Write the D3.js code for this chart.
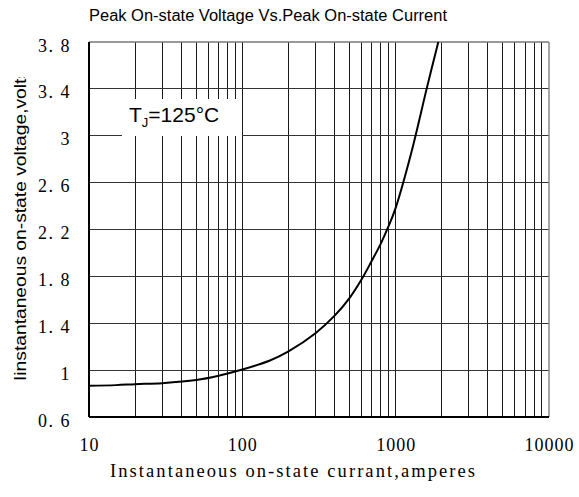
<!DOCTYPE html>
<html><head><meta charset="utf-8">
<script src="https://cdn.jsdelivr.net/npm/d3@7"></script>
<style>body{margin:0;background:#fff}svg{display:block}</style>
</head><body>
<script>
const currents = [10, 15, 20, 30, 50, 70, 100, 150, 200, 300, 400, 500, 600, 700, 800, 900, 1000, 1273, 1592, 1897];
const voltages = [0.866, 0.872, 0.880, 0.889, 0.915, 0.952, 1.005, 1.08, 1.16, 1.315, 1.465, 1.615, 1.775, 1.935, 2.08, 2.23, 2.385, 2.87, 3.40, 3.8];
const xTickValues = [10, 100, 1000, 10000];
const yTickValues = [0.6, 1.0, 1.4, 1.8, 2.2, 2.6, 3.0, 3.4, 3.8];
const titleText = "Peak On-state Voltage Vs.Peak On-state Current";
const xLabelText = "Instantaneous on-state currant,amperes";
const yLabelText = "Iinstantaneous on-state voltage,volts";

const W = 579, H = 497;
const m = {l: 89, r: 30, t: 42, b: 80};
const svg = d3.select("body").append("svg").attr("width", W).attr("height", H);
const x = d3.scaleLog().domain([10, 10000]).range([m.l, W - m.r]);
const y = d3.scaleLinear().domain([0.6, 3.8]).range([H - m.b, m.t]);

// vertical grid
const minor = [];
for (let d = 10; d < 10000; d *= 10) for (let k = 1; k <= 9; k++) minor.push(d * k);
svg.append("g").selectAll("line").data(minor.filter(v => v > 10)).join("line")
  .attr("x1", d => x(d)).attr("x2", d => x(d)).attr("y1", y(0.6)).attr("y2", y(3.8))
  .attr("stroke", "#1a1a1a").attr("stroke-width", 1).attr("shape-rendering", "crispEdges");
// horizontal grid
svg.append("g").selectAll("line").data(yTickValues.slice(1, -1)).join("line")
  .attr("x1", x(10)).attr("x2", x(10000)).attr("y1", d => y(d)).attr("y2", d => y(d))
  .attr("stroke", "#333").attr("stroke-width", 1).attr("shape-rendering", "crispEdges");

// frame
svg.append("line").attr("x1", x(10)).attr("x2", x(10000)).attr("y1", y(3.8)).attr("y2", y(3.8))
  .attr("stroke", "#777").attr("stroke-width", 1.5);
svg.append("line").attr("x1", x(10000)).attr("x2", x(10000)).attr("y1", y(3.8)).attr("y2", y(0.6))
  .attr("stroke", "#888").attr("stroke-width", 1.5);
svg.append("line").attr("x1", x(10)).attr("x2", x(10000)).attr("y1", y(0.6)).attr("y2", y(0.6))
  .attr("stroke", "#000").attr("stroke-width", 2);
svg.append("line").attr("x1", x(10)).attr("x2", x(10)).attr("y1", y(3.8)).attr("y2", y(0.6))
  .attr("stroke", "#000").attr("stroke-width", 2);

// label box
svg.append("rect").attr("x", 122).attr("y", 99).attr("width", 120).attr("height", 37).attr("fill", "#fff");
const tj = svg.append("text").attr("x", 129).attr("y", 122)
  .attr("font-family", "Liberation Sans, Arial, sans-serif").attr("font-size", 21).attr("fill", "#000");
tj.append("tspan").text("T");
tj.append("tspan").attr("font-size", 13).attr("dy", 5).text("J");
tj.append("tspan").attr("dy", -5).text("=125°C");

// curve
const line = d3.line().x(d => x(d[0])).y(d => y(d[1])).curve(d3.curveCatmullRom.alpha(0.5));
svg.append("path").datum(currents.map((c, i) => [c, voltages[i]]))
  .attr("d", line).attr("fill", "none").attr("stroke", "#000").attr("stroke-width", 2);

// axes tick labels
const xAxis = d3.axisBottom(x).tickValues(xTickValues).tickFormat(d3.format("d")).tickSize(0).tickPadding(21);
const gx = svg.append("g").attr("transform", `translate(0,${y(0.6)})`).call(xAxis);
gx.select(".domain").remove();
gx.selectAll("text").attr("font-family", "Liberation Serif, Times New Roman, serif")
  .attr("font-size", 18).attr("letter-spacing", 1).attr("fill", "#000");

const yAxis = d3.axisLeft(y).tickValues(yTickValues)
  .tickFormat(d => (Number.isInteger(d) ? String(d) : d.toFixed(1).replace(".", ".\u00a0"))).tickSize(0).tickPadding(18);
const gy = svg.append("g").attr("transform", `translate(${x(10)},0)`).call(yAxis);
gy.select(".domain").remove();
gy.selectAll("text").attr("font-family", "Liberation Serif, Times New Roman, serif")
  .attr("font-size", 18).attr("letter-spacing", 1.5).attr("fill", "#000").attr("dy", "0.5em");

// title
svg.append("text").attr("x", 268).attr("y", 21).attr("text-anchor", "middle")
  .attr("font-family", "Liberation Sans, Arial, sans-serif")
  .attr("font-size", 16).attr("textLength", 358).attr("lengthAdjust", "spacingAndGlyphs").text(titleText);

// x label
svg.append("text").attr("x", 110).attr("y", 477)
  .attr("font-family", "Liberation Serif, Times New Roman, serif")
  .attr("font-size", 18.5).attr("textLength", 365).attr("lengthAdjust", "spacing").text(xLabelText);

// y label (clipped at top)
svg.append("clipPath").attr("id", "yclip").append("rect").attr("x", 0).attr("y", 77).attr("width", 40).attr("height", 400);
svg.append("g").attr("clip-path", "url(#yclip)").append("text")
  .attr("transform", "translate(26,381) rotate(-90)")
  .attr("font-family", "Liberation Sans, Arial, sans-serif")
  .attr("font-size", 16).attr("textLength", 312).attr("lengthAdjust", "spacingAndGlyphs").text(yLabelText);
</script>
</body></html>
